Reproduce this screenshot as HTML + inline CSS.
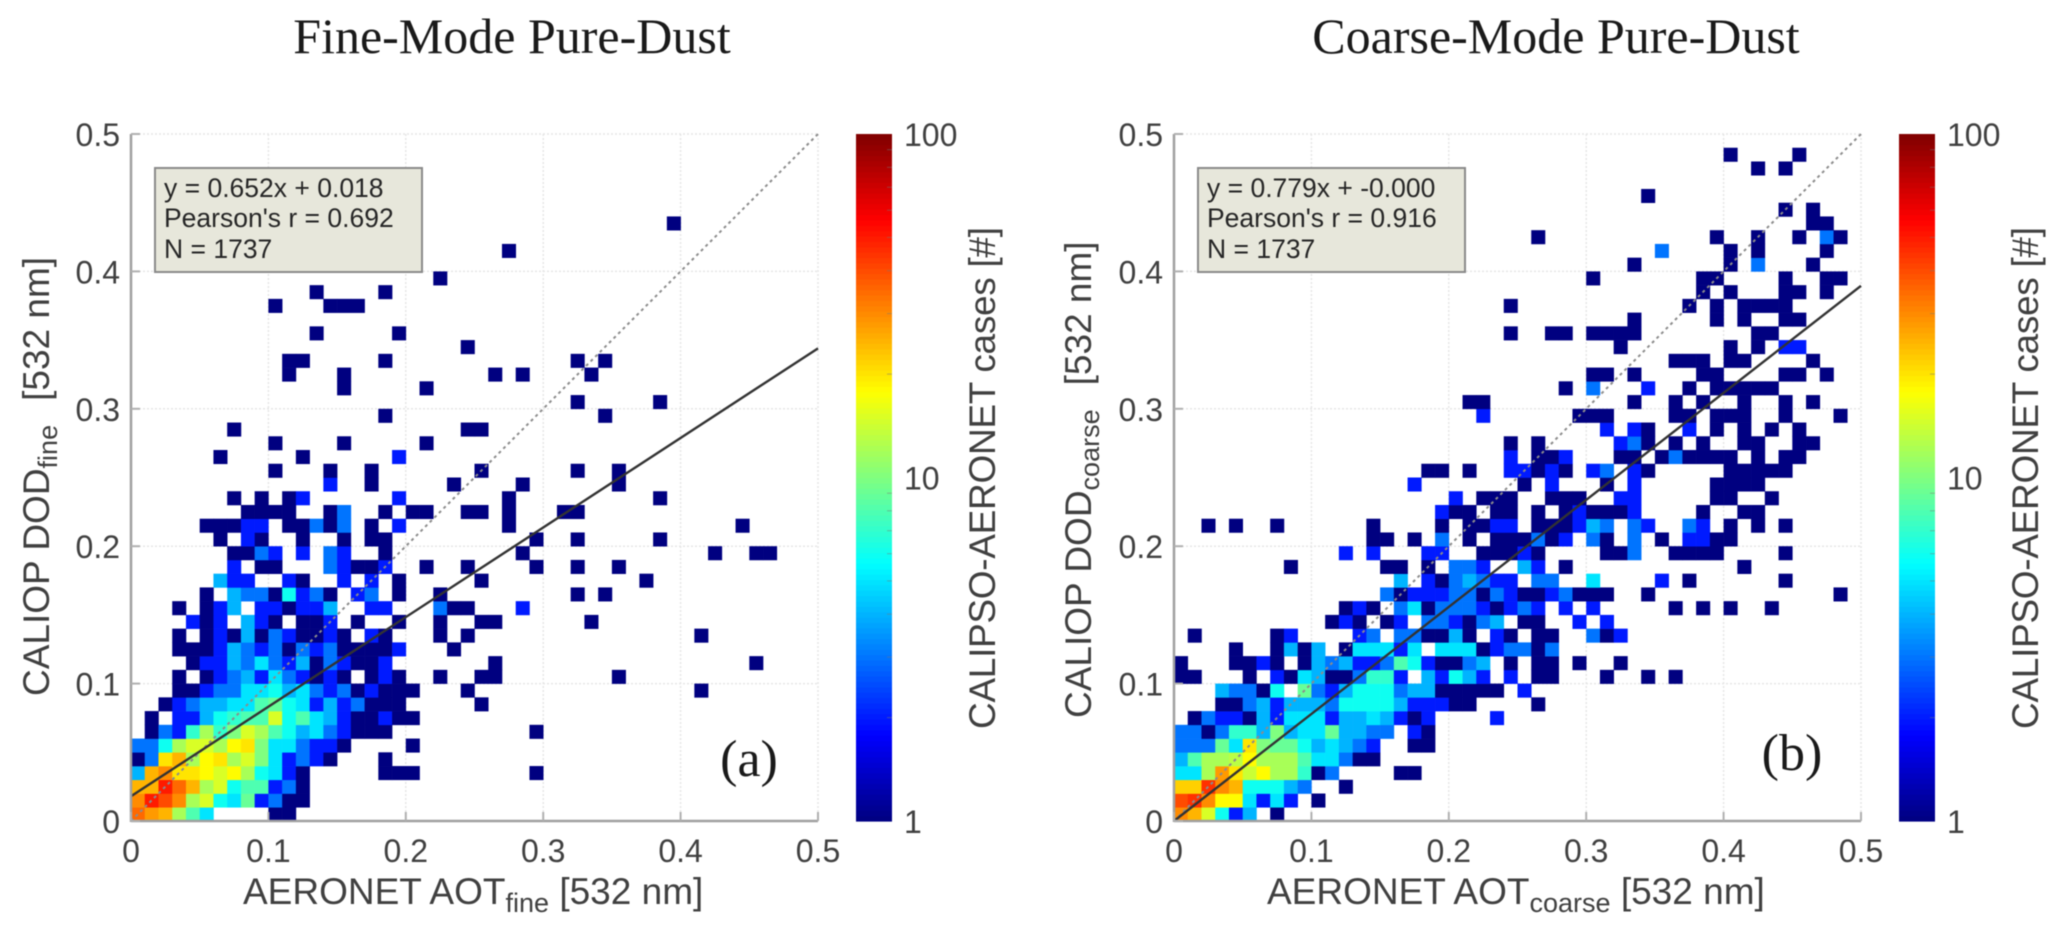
<!DOCTYPE html>
<html lang="en">
<head>
<meta charset="utf-8">
<title>CALIOP vs AERONET pure-dust comparison</title>
<style>
html,body{margin:0;padding:0;background:#fff;width:2067px;height:942px;overflow:hidden}
svg{display:block;filter:blur(0.5px)}
text{font-family:"Liberation Sans",sans-serif;fill:#404040}
.serif{font-family:"Liberation Serif",serif;fill:#1a1a1a}
.legend-text{font-size:26.5px;fill:#262626}
</style>
</head>
<body>
<svg id="fig" width="2067" height="942" viewBox="0 0 2067 942" xmlns="http://www.w3.org/2000/svg">
  <rect width="2067" height="942" fill="#fff"/>
  <text class="serif" x="512" y="53" font-size="50" text-anchor="middle">Fine-Mode Pure-Dust</text>
  <text class="serif" x="1556" y="53" font-size="50" text-anchor="middle">Coarse-Mode Pure-Dust</text>
  <g id="panelA"></g>
  <g id="panelB"></g>

  <text x="243" y="904" font-size="37">AERONET AOT<tspan font-size="27" dy="8">fine</tspan><tspan dy="-8"> [532 nm]</tspan></text>
  <text x="1267" y="904" font-size="37">AERONET AOT<tspan font-size="27" dy="8">coarse</tspan><tspan dy="-8"> [532 nm]</tspan></text>
  <text transform="translate(49,696) rotate(-90)" font-size="37">CALIOP DOD<tspan font-size="27" dy="8">fine</tspan><tspan dy="-8" dx="24">[532 nm]</tspan></text>
  <text transform="translate(1091,718) rotate(-90)" font-size="37">CALIOP DOD<tspan font-size="27" dy="8">coarse</tspan><tspan dy="-8" dx="24">[532 nm]</tspan></text>
  <text transform="translate(995,729) rotate(-90)" font-size="37" textLength="502">CALIPSO-AERONET cases [#]</text>
  <text transform="translate(2038,729) rotate(-90)" font-size="37" textLength="502">CALIPSO-AERONET cases [#]</text>

  <g>
    <rect x="155" y="168" width="267" height="104" fill="#e7e7db" stroke="#8a8a8a" stroke-width="2"/>
    <text class="legend-text" x="164" y="197">y = 0.652x + 0.018</text>
    <text class="legend-text" x="164" y="227">Pearson's r = 0.692</text>
    <text class="legend-text" x="164" y="258">N = 1737</text>
  </g>
  <g>
    <rect x="1198" y="168" width="267" height="104" fill="#e7e7db" stroke="#8a8a8a" stroke-width="2"/>
    <text class="legend-text" x="1207" y="197">y = 0.779x + -0.000</text>
    <text class="legend-text" x="1207" y="227">Pearson's r = 0.916</text>
    <text class="legend-text" x="1207" y="258">N = 1737</text>
  </g>
  <text class="serif" x="749" y="776" font-size="52" text-anchor="middle">(a)</text>
  <text class="serif" x="1792" y="770" font-size="52" text-anchor="middle">(b)</text>
</svg>
<script>
// Axis tick values
const axisTicks = [0, 0.1, 0.2, 0.3, 0.4, 0.5];
const axisTickLabels = ['0', '0.1', '0.2', '0.3', '0.4', '0.5'];
const colorTicks = [1, 10, 100];
const colorTickLabels = ['1', '10', '100'];
const colorMinorTicks = [2, 3, 4, 5, 6, 7, 8, 9, 20, 30, 40, 50, 60, 70, 80, 90];
// Regression fits: [slope, intercept]
const fineFit = [0.652, 0.018];
const coarseFit = [0.779, 0.000];
// Histogram rows: [DOD bin (0.01 wide), AOT bin, count, AOT bin, count, ...]
const fineRows = [
[0, 0,35,1,28,2,25,3,12,4,8,5,5,10,1,11,1],
[1, 0,30,1,50,2,40,3,30,4,12,5,15,6,6,7,5,8,9,9,2,10,3,11,1,12,1],
[2, 0,25,1,25,2,50,3,35,4,25,5,12,6,15,7,6,8,8,9,8,10,2,11,3,12,1],
[3, 0,4,1,25,2,30,3,20,4,20,5,18,6,15,7,18,8,12,9,6,10,5,11,2,12,1,18,1,19,1,20,1,29,1],
[4, 0,1,1,3,2,20,3,25,4,12,5,18,6,20,7,12,8,15,9,10,10,5,11,2,12,3,13,2,14,1,18,1],
[5, 0,3,1,3,2,6,3,12,4,15,5,15,6,12,7,18,8,20,9,10,10,5,11,5,12,3,13,2,14,2,15,1,20,1],
[6, 1,1,2,3,3,2,4,7,5,12,6,7,7,10,8,15,9,12,10,8,11,6,12,4,13,5,14,3,15,2,16,1,17,1,18,1,29,1],
[7, 1,1,3,2,4,2,5,4,6,6,7,7,8,8,9,8,10,15,11,6,12,8,13,5,14,4,15,2,16,1,17,1,18,2,19,1,20,1],
[8, 2,1,3,2,4,3,5,4,6,4,7,5,8,5,9,8,10,9,11,6,12,5,13,2,14,4,15,2,16,3,17,1,18,1,19,1,25,1],
[9, 3,1,4,1,5,2,6,3,7,3,8,5,9,5,10,6,11,4,12,5,13,3,14,2,15,3,16,1,17,2,18,1,19,1,20,1,24,1,41,1],
[10, 3,1,5,1,6,2,7,3,8,4,9,2,10,5,11,3,12,2,13,1,14,2,15,1,17,1,18,2,19,1,22,1,25,1,26,1,35,1],
[11, 4,1,5,2,6,2,7,4,8,3,9,5,10,3,11,2,12,4,13,1,14,3,15,2,16,1,17,1,18,2,26,1,45,1],
[12, 3,1,4,1,5,1,6,2,7,4,8,3,9,2,10,3,11,1,12,3,13,2,14,3,15,1,16,1,17,1,18,1,19,2,23,1],
[13, 3,1,5,1,6,2,7,1,8,4,9,1,10,3,11,2,12,1,13,1,14,2,15,1,17,2,18,1,22,1,24,1,41,1],
[14, 4,2,5,1,6,2,8,4,9,2,10,1,12,1,13,1,14,2,16,1,19,1,22,1,25,1,26,1,33,1],
[15, 3,1,5,1,6,2,7,4,9,2,10,2,11,1,12,2,13,2,14,4,17,2,18,2,22,3,23,1,24,1,28,2],
[16, 5,1,7,4,8,3,9,3,10,1,11,6,12,2,13,3,14,1,16,2,17,3,19,1,22,1,32,1,34,1],
[17, 6,4,7,2,8,2,11,2,12,1,15,2,17,2,19,1,25,1,37,1],
[18, 7,2,9,1,10,1,14,3,15,2,16,1,17,1,18,2,21,1,24,1,29,1,32,1,35,1],
[19, 7,1,8,1,9,3,10,2,12,2,14,3,15,2,18,1,28,1,42,1,45,1,46,1],
[20, 6,1,8,2,9,1,12,1,15,1,17,1,18,1,29,1,32,1,38,1],
[21, 5,1,6,1,7,1,8,2,9,2,11,1,12,1,13,3,14,1,15,3,17,1,19,2,27,1,44,1],
[22, 8,1,9,1,10,1,11,1,14,1,15,3,18,1,20,1,21,1,24,1,25,1,27,1,31,1,32,1],
[23, 7,1,9,1,11,1,12,2,19,2,27,1,38,1],
[24, 14,2,17,1,23,1,28,1,35,1],
[25, 10,1,14,1,17,1,25,1,32,1,35,1],
[26, 6,1,12,1,19,2],
[27, 10,1,15,1,21,1],
[28, 7,1,24,1,25,1],
[29, 18,1,34,1],
[30, 32,1,38,1],
[31, 15,1,21,1],
[32, 11,1,15,1,26,1,28,1,33,1],
[33, 11,1,12,1,18,1,32,1,34,1],
[34, 24,1],
[35, 13,1,19,1],
[37, 10,1,14,1,15,1,16,1],
[38, 13,1,18,1],
[39, 22,1],
[41, 27,1],
[43, 39,1]
];
const coarseRows = [
[0, 0,30,1,25,2,15,3,6,4,2,5,4,7,1],
[1, 0,40,1,45,2,30,3,18,4,18,5,5,6,2,7,5,8,2,10,1],
[2, 0,22,1,22,2,45,3,30,4,25,5,6,6,6,7,6,8,4,9,3,12,1],
[3, 0,5,1,5,2,12,3,28,4,20,5,14,6,18,7,12,8,12,9,7,10,1,11,3,16,1,17,1],
[4, 0,4,1,8,2,12,3,12,4,13,5,18,6,12,7,12,8,12,9,8,10,5,11,5,12,3,13,1,14,1],
[5, 0,3,1,3,2,3,3,9,4,5,5,20,6,10,7,9,8,9,9,6,10,4,11,5,12,4,13,3,14,2,17,1,18,1],
[6, 0,3,1,3,2,1,3,3,4,7,5,7,6,4,7,10,8,4,9,5,10,5,11,9,12,4,13,4,14,3,15,3,17,2,18,1],
[7, 1,1,2,3,3,2,4,2,5,1,6,4,7,2,8,5,9,5,10,5,11,2,12,4,13,4,14,5,15,4,16,2,17,1,18,2,23,2],
[8, 3,1,4,1,5,3,6,4,7,2,8,4,9,4,10,4,11,3,12,6,13,6,14,6,15,6,16,4,17,2,18,2,19,2,20,1,21,1,26,1],
[9, 3,4,4,3,5,3,6,1,7,6,9,9,10,3,11,2,12,4,13,6,14,6,15,6,16,3,17,4,18,4,19,1,20,1,21,1,22,1,23,1,25,2],
[10, 0,1,1,1,5,1,7,2,8,1,9,5,10,4,11,1,12,1,13,3,14,7,15,7,16,2,18,4,19,2,20,6,21,4,22,2,24,2,26,1,27,1,31,1,34,1,36,1],
[11, 0,1,4,1,5,1,6,2,7,1,9,1,10,4,11,3,12,4,13,2,14,2,15,3,16,8,17,6,18,2,19,1,20,1,21,3,22,4,24,1,26,1,27,1,29,1,32,1],
[12, 4,1,7,1,8,4,9,1,10,4,12,1,13,5,14,5,15,5,16,2,17,5,19,5,20,5,21,5,22,1,23,2,24,3,25,3,26,1,27,3],
[13, 1,1,7,1,8,2,13,2,14,3,16,3,17,3,18,1,19,1,20,4,21,1,23,2,24,1,26,1,27,1,30,3,31,1,32,2],
[14, 11,1,12,2,13,1,15,1,16,2,18,3,19,3,20,2,21,1,22,3,23,4,25,1,26,1,29,2,31,2],
[15, 12,1,13,2,14,1,16,3,17,5,18,1,19,3,20,3,21,3,22,2,23,1,24,2,25,3,26,2,28,2,30,2,36,1,38,1,40,1,43,1],
[16, 15,3,16,1,17,2,18,2,19,2,20,3,21,3,22,1,23,3,24,2,25,1,26,1,27,2,28,3,29,1,30,1,31,1,34,1,48,1],
[17, 16,4,18,2,19,1,20,3,21,4,22,3,23,2,24,2,26,3,27,3,30,5,35,2,37,1,44,1],
[18, 8,1,15,1,16,1,18,1,20,3,21,3,22,2,25,4,26,2,28,1,41,1],
[19, 12,2,14,2,18,2,19,2,22,1,23,1,24,1,25,2,26,1,31,1,32,1,33,3,36,1,37,1,38,1,39,1,44,1],
[20, 14,1,15,1,17,1,19,3,21,1,23,1,24,1,25,1,26,3,27,1,28,2,30,3,31,1,33,3,35,1,37,2,38,2,39,1,40,1],
[21, 2,1,4,1,7,1,14,1,19,1,21,1,22,1,23,2,24,2,26,1,27,1,28,1,29,2,30,4,31,3,33,3,34,2,37,3,38,2,40,1,42,1,44,1],
[22, 19,2,20,1,21,1,23,1,24,1,26,1,28,1,29,2,30,1,31,1,32,1,33,2,38,1,41,1,42,1],
[23, 20,2,22,1,23,1,24,1,27,1,28,1,29,1,32,2,33,2,39,1,40,1,43,1],
[24, 17,2,25,1,27,2,31,1,33,2,39,1,40,1,41,1,42,1],
[25, 18,1,19,1,21,1,24,2,25,2,26,1,27,2,28,1,30,2,31,3,33,2,34,1,40,1,41,1,42,1,43,1,44,1],
[26, 24,2,26,1,27,1,28,2,32,1,33,1,35,1,36,3,37,1,38,1,39,1,40,1,42,1,44,1,45,1],
[27, 24,1,26,1,32,2,33,3,34,1,36,1,38,1,41,1,42,1,45,1,46,1],
[28, 31,2,33,2,34,1,37,2,39,1,41,1,43,1,45,1],
[29, 22,2,29,1,30,1,31,1,36,1,37,1,39,1,40,1,41,1,44,1,48,1],
[30, 21,1,22,1,33,1,36,1,38,1,41,1,44,1,46,1],
[31, 28,1,30,3,34,2,37,1,39,1,40,1,41,1,42,1,43,1],
[32, 30,1,31,1,33,1,38,1,39,1,44,1,45,1,47,1],
[33, 36,1,37,1,38,1,40,1,41,1,46,1],
[34, 32,1,40,1,42,1,44,2,45,2],
[35, 24,1,27,1,28,1,30,1,31,1,32,1,33,1,42,1,43,1],
[36, 33,1,39,1,41,1,44,1,45,1],
[37, 24,1,37,1,39,1,41,1,42,1,43,1,44,1],
[38, 38,1,40,1,44,1,45,1,47,1],
[39, 30,1,38,1,39,1,44,1,47,1,48,1],
[40, 33,1,42,3,40,1,46,1],
[41, 35,3,40,1,42,1,47,1],
[42, 26,1,39,1,42,1,45,1,47,3,48,1],
[43, 46,1,47,1],
[44, 44,1,46,1],
[45, 34,1],
[47, 42,1,44,1],
[48, 40,1,45,1]
];

const SVGNS = 'http://www.w3.org/2000/svg';
const plotSize = 687;
const plotTop = 134;
const plotBottom = 821;

function make(parent, tag, attrs) {
  const el = document.createElementNS(SVGNS, tag);
  for (const k in attrs) el.setAttribute(k, attrs[k]);
  parent.appendChild(el);
  return el;
}
function jet(t) {
  const c = v => Math.round(255 * Math.max(0, Math.min(1, v)));
  return 'rgb(' + c(1.5 - Math.abs(4 * t - 3)) + ',' + c(1.5 - Math.abs(4 * t - 2)) + ',' + c(1.5 - Math.abs(4 * t - 1)) + ')';
}
function colorValue(n) { return Math.log10(n) / 2; }

function drawPanel(root, plotLeft, cbarLeft, cbarWidth, rows, fit) {
  const xScale = v => plotLeft + v / 0.5 * plotSize;
  const yScale = v => plotBottom - v / 0.5 * plotSize;
  const cbarScale = v => plotBottom - colorValue(v) * plotSize;

  // grid
  axisTicks.forEach(v => {
    if (v === 0) return;
    const gx = make(root, 'line', {x1: xScale(v), x2: xScale(v), y1: plotTop, y2: plotBottom, stroke: '#e6e6e6', 'stroke-width': 1.5, 'stroke-dasharray': '2 2'});
    
    
    const gy = make(root, 'line', {x1: plotLeft, x2: plotLeft + plotSize, y1: yScale(v), y2: yScale(v), stroke: '#e6e6e6', 'stroke-width': 1.5, 'stroke-dasharray': '2 2'});
    
    
  });

  // heatmap cells
  const cellW = xScale(0.01) - xScale(0);
  rows.forEach(row => {
    const dodBin = row[0];
    for (let i = 1; i < row.length; i += 2) {
      const aotBin = row[i];
      const count = row[i + 1];
      const cell = make(root, 'rect', {
        x: xScale(aotBin * 0.01), y: yScale((dodBin + 1) * 0.01),
        width: cellW + 0.3, height: cellW + 0.3,
        fill: jet(colorValue(count))
      });
      
      
    }
  });

  // 1:1 and fit lines
  const oneToOne = make(root, 'line', {x1: xScale(0), y1: yScale(0), x2: xScale(0.5), y2: yScale(0.5), stroke: '#8c8c8c', 'stroke-width': 2, 'stroke-dasharray': '3 3.5'});
  
  
  const fitLine = make(root, 'line', {x1: xScale(0), y1: yScale(fit[1]), x2: xScale(0.5), y2: yScale(fit[0] * 0.5 + fit[1]), stroke: '#333', 'stroke-width': 2.4});
  
  

  // axes
  const yAxis = make(root, 'line', {x1: plotLeft, x2: plotLeft, y1: plotTop, y2: plotBottom + 1, stroke: '#a0a0a0', 'stroke-width': 2.5});
  
  
  const xAxis = make(root, 'line', {x1: plotLeft, x2: plotLeft + plotSize, y1: plotBottom, y2: plotBottom, stroke: '#a0a0a0', 'stroke-width': 2.5});
  
  

  axisTicks.forEach((v, i) => {
    const ty = make(root, 'line', {x1: plotLeft, x2: plotLeft + 9, y1: yScale(v), y2: yScale(v), stroke: '#b0b0b0', 'stroke-width': 2});
    
    
    const tx = make(root, 'line', {x1: xScale(v), x2: xScale(v), y1: plotBottom, y2: plotBottom - 9, stroke: '#b0b0b0', 'stroke-width': 2});
    
    
    const ly = make(root, 'text', {x: plotLeft - 11, y: yScale(v) + 12, 'font-size': 32, 'text-anchor': 'end'});
    ly.textContent = axisTickLabels[i];
    
    
    const lx = make(root, 'text', {x: xScale(v), y: 862, 'font-size': 32, 'text-anchor': 'middle'});
    lx.textContent = axisTickLabels[i];
    
    
  });

  // colorbar
  const cbar = make(root, 'g', {});
  
  
  const steps = 128;
  for (let s = 0; s < steps; s++) {
    make(cbar, 'rect', {x: cbarLeft, y: plotBottom - (s + 1) / steps * plotSize, width: cbarWidth, height: plotSize / steps + 0.6, fill: jet((s + 0.5) / steps)});
  }
  colorMinorTicks.forEach(v => {
    make(cbar, 'line', {x1: cbarLeft + cbarWidth - 5, x2: cbarLeft + cbarWidth, y1: cbarScale(v), y2: cbarScale(v), stroke: '#777', 'stroke-width': 1, opacity: 0.5});
  });
  colorTicks.forEach((v, i) => {
    const lc = make(root, 'text', {x: cbarLeft + cbarWidth + 12, y: cbarScale(v) + 12, 'font-size': 32});
    lc.textContent = colorTickLabels[i];
    
    
  });
}

drawPanel(document.getElementById('panelA'), 131, 856, 36, fineRows, fineFit);
drawPanel(document.getElementById('panelB'), 1174, 1899, 36, coarseRows, coarseFit);
</script>
</body>
</html>
